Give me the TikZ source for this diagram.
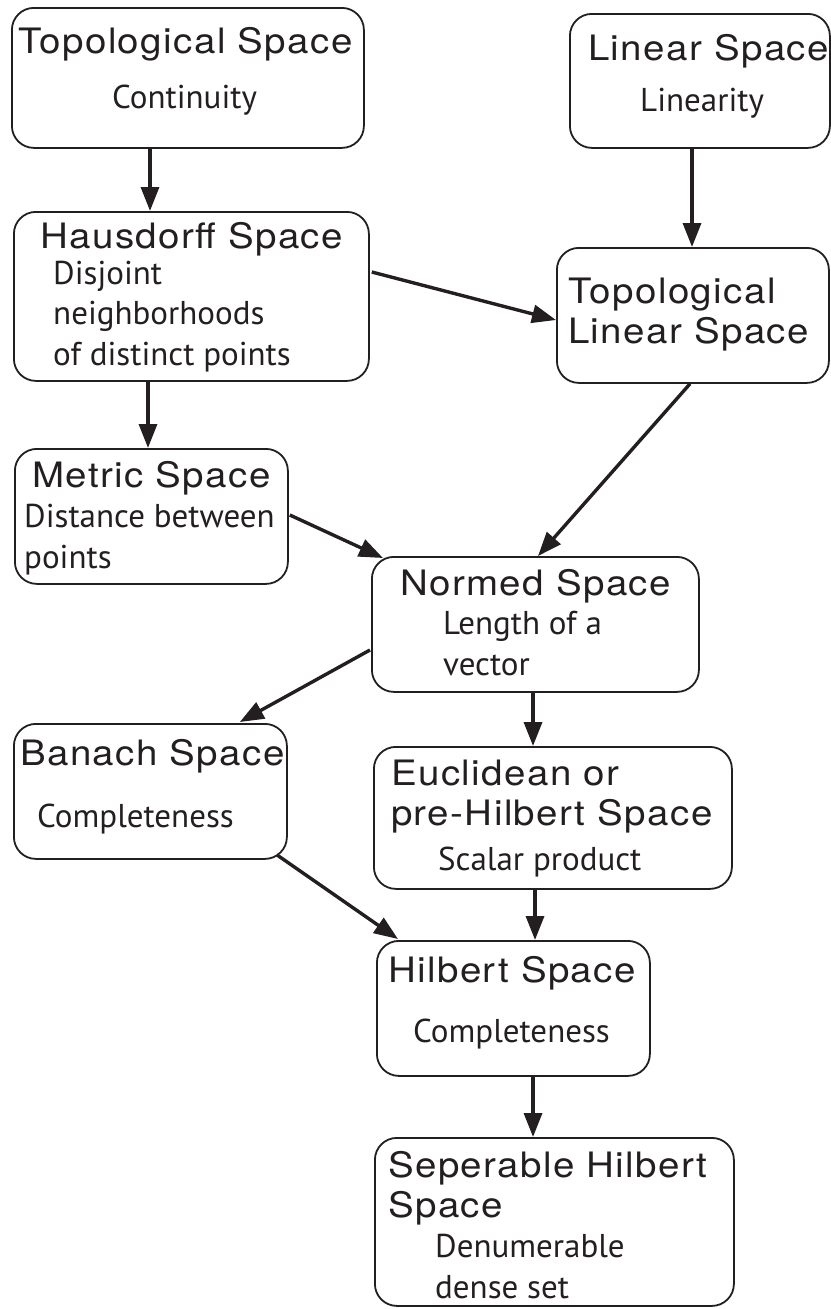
\documentclass[tikz,border=0pt]{standalone}
\usepackage{fontspec}
\setmainfont{PT Sans}
\newfontfamily\titlefont[FakeStretch=1.1,LetterSpace=4]{TeX Gyre Heros}
\usetikzlibrary{arrows.meta, calc}
\definecolor{spink}{HTML}{231F20}

\begin{document}
\begin{tikzpicture}[x=1pt, y=-1pt,
    spacebox/.style={draw=spink, line width=1.8pt, rounded corners=22pt,
      anchor=north west, inner sep=0pt},
    ttl/.style={anchor=base west, align=left, inner sep=0pt, text=spink,
      font=\titlefont\fontsize{35}{40}\selectfont},
    desc/.style={anchor=base west, align=left, inner sep=0pt, text=spink,
      font=\fontsize{33}{40.5}\selectfont},
    arr/.style={draw=spink, line width=3.4pt, -{Triangle[length=24pt,width=18pt]}}]
  \useasboundingbox (0,0) rectangle (830,1309);
  % boxes
  \node[spacebox, minimum width=352pt, minimum height=140pt] (topo) at (11,7) {};
  \node[spacebox, minimum width=260pt, minimum height=134pt] (lin) at (569,13) {};
  \node[spacebox, minimum width=355pt, minimum height=169pt] (haus) at (13,211) {};
  \node[spacebox, minimum width=272pt, minimum height=135pt] (tls) at (556,247) {};
  \node[spacebox, minimum width=273pt, minimum height=135pt] (metric) at (14,448) {};
  \node[spacebox, minimum width=327pt, minimum height=135pt] (normed) at (371,556) {};
  \node[spacebox, minimum width=273pt, minimum height=135pt] (banach) at (13,723) {};
  \node[spacebox, minimum width=358pt, minimum height=142pt] (euclid) at (373,746) {};
  \node[spacebox, minimum width=273pt, minimum height=135pt] (hilbert) at (376,940) {};
  \node[spacebox, minimum width=359pt, minimum height=168pt] (sep) at (374,1137) {};
  % texts (base = last line)
  \node[ttl] (topo-t) at (18,53) {Topological Space};
  \node[desc] (topo-d) at (112,108) {Continuity};
  \node[ttl] (lin-t) at (588,60) {Linear Space};
  \node[desc] (lin-d) at (640,111) {Linearity};
  \node[ttl] (haus-t) at (40,248) {Hausdorff Space};
  \node[desc] (haus-d) at (53,365) {Disjoint\\ neighborhoods\\ of distinct points};
  \node[ttl] (tls-t) at (568,343) {Topological\\ Linear Space};
  \node[ttl] (metric-t) at (32,487) {Metric Space};
  \node[desc] (metric-d) at (24,568) {Distance between\\ points};
  \node[ttl] (normed-t) at (400,595) {Normed Space};
  \node[desc] (normed-d) at (443,675) {Length of a\\ vector};
  \node[ttl] (banach-t) at (20,765) {Banach Space};
  \node[desc] (banach-d) at (37,827) {Completeness};
  \node[ttl] (euclid-t) at (391,825) {Euclidean or\\ pre-Hilbert Space};
  \node[desc] (euclid-d) at (438,870) {Scalar product};
  \node[ttl] (hilbert-t) at (388,982) {Hilbert Space};
  \node[desc] (hilbert-d) at (413,1042) {Completeness};
  \node[ttl] (sep-t) at (388,1217) {Seperable Hilbert\\ Space};
  \node[desc] (sep-d) at (435,1298) {Denumerable\\ dense set};
  % arrows
  \draw[arr] ($(topo.south west)+(139,0)$) -- ($(haus.north west)+(137,0)$);
  \draw[arr] ($(lin.south west)+(123,0)$) -- ($(tls.north west)+(136,0)$);
  \draw[arr] ($(haus.north east)+(2,61)$) -- ($(tls.north west)+(0,73)$);
  \draw[arr] ($(haus.south west)+(135,0)$) -- ($(metric.north west)+(134,0)$);
  \draw[arr] ($(tls.south west)+(134,0)$) -- ($(normed.north west)+(167,0)$);
  \draw[arr] ($(metric.north east)+(1,67)$) -- ($(normed.north west)+(12,2)$);
  \draw[arr] ($(normed.north west)+(-1,94)$) -- ($(banach.north east)+(-48,-1)$);
  \draw[arr] ($(normed.south west)+(162,0)$) -- ($(euclid.north west)+(160,0)$);
  \draw[arr] ($(banach.south east)+(-11,-5)$) -- ($(hilbert.north west)+(22,-1)$);
  \draw[arr] ($(euclid.south west)+(162,0)$) -- ($(hilbert.north west)+(159,0)$);
  \draw[arr] ($(hilbert.south west)+(157,0)$) -- ($(sep.north west)+(159,0)$);
\end{tikzpicture}
\end{document}
